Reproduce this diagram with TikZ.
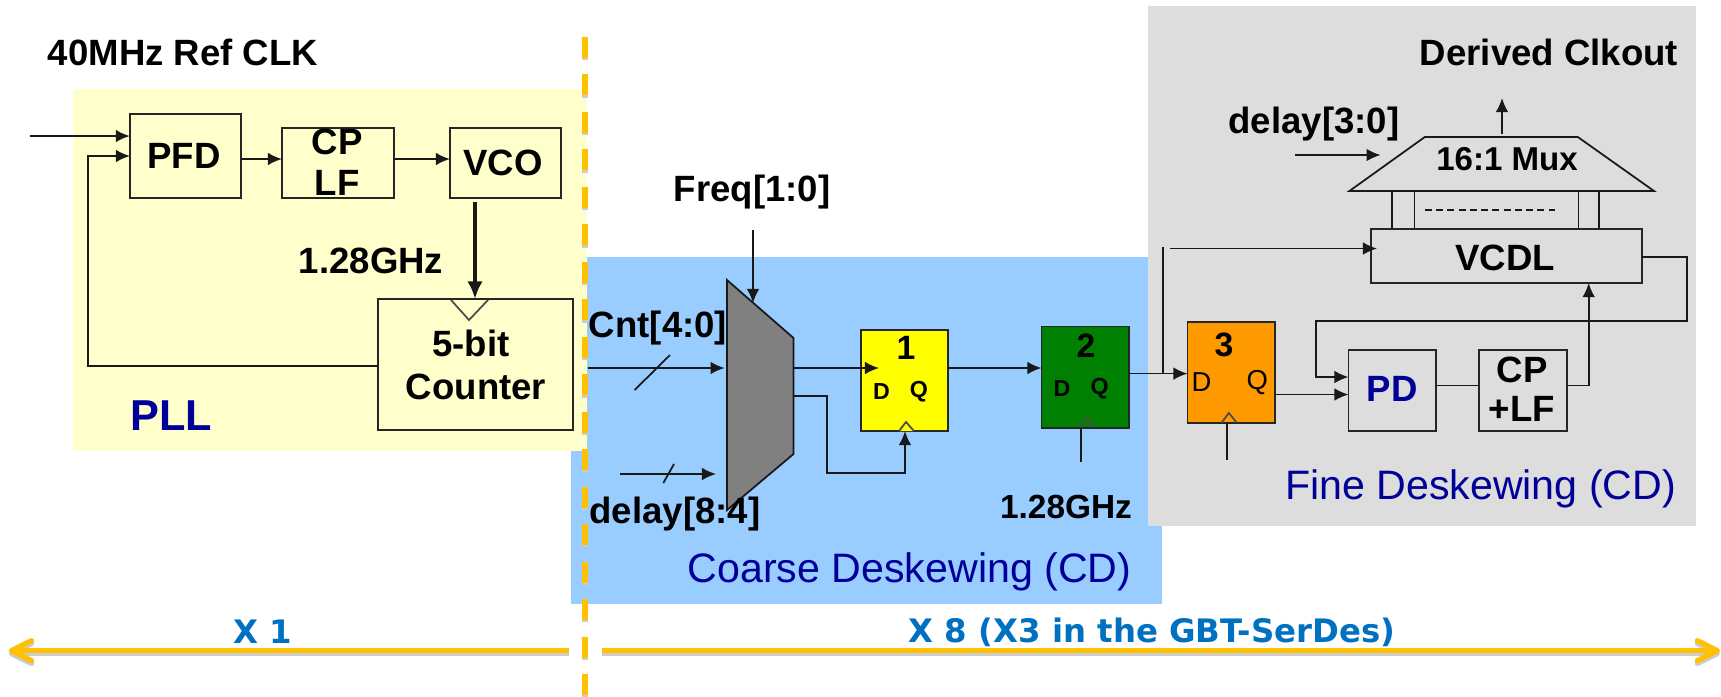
\documentclass[tikz,border=0pt]{standalone}
\usepackage{fontspec}
\setmainfont{Liberation Sans}
\newfontfamily\tagfont{DejaVu Sans}
\usepackage{tikz}
\usetikzlibrary{arrows,arrows.meta,shapes}
\definecolor{pllyellow}{RGB}{255,255,204}
\definecolor{coarseblue}{RGB}{153,204,255}
\definecolor{finegrey}{RGB}{221,221,221}
\definecolor{titleblue}{RGB}{0,0,153}
\definecolor{factorblue}{RGB}{0,112,192}
\definecolor{guideorange}{RGB}{255,192,0}
\definecolor{ffyellow}{RGB}{255,255,0}
\definecolor{ffgreen}{RGB}{0,128,0}
\definecolor{fforange}{RGB}{255,153,0}
\tikzstyle{region}=[inner sep=0pt,outer sep=0pt]
\tikzstyle{block}=[draw=black!85,line width=0.55pt,inner sep=0pt,outer sep=0pt]
\tikzstyle{lbl}=[inner sep=0pt,font=\fontsize{10.4}{12}\selectfont\bfseries]
\tikzstyle{pin}=[inner sep=0pt,font=\fontsize{6.6}{8}\selectfont\bfseries]
\tikzstyle{bigpin}=[inner sep=0pt,font=\fontsize{7.8}{9}\selectfont]
\tikzstyle{num}=[inner sep=0pt,font=\fontsize{9.6}{11}\selectfont\bfseries]
\tikzstyle{title}=[inner sep=0pt,text=titleblue,font=\fontsize{11.7}{13}\selectfont]
\tikzstyle{factor}=[inner sep=0pt,text=factorblue,font=\fontsize{9.2}{11}\selectfont\tagfont\bfseries]
\tikzstyle{edge}=[draw=black!90,line width=0.5pt]
\tikzstyle{link}=[edge,-{Latex[length=4pt,width=3.6pt]}]
\tikzstyle{guide}=[draw=guideorange,line width=1.5pt,
  preaction={draw=black!20,line width=1.5pt,transform canvas={yshift=-0.8pt}}]
\tikzstyle{guidedash}=[draw=guideorange,line width=1.5pt,dash pattern=on 5.97pt off 4.69pt,
  preaction={draw=black!20,line width=1.5pt,dash pattern=on 5.97pt off 4.69pt,transform canvas={yshift=-0.6pt}}]
\begin{document}
\begin{tikzpicture}[x=0.01cm,y=-0.01cm]
        \useasboundingbox (0,0) rectangle (1721,696);
        % backgrounds
        \node[region,fill=coarseblue,minimum width=5.905cm,minimum height=3.47cm] (coarsebg) at (866.75,430.5) {};
        \node[region,fill=finegrey,minimum width=5.485cm,minimum height=5.196cm] (finebg) at (1422,265.8) {};
        \node[region,fill=pllyellow,minimum width=5.135cm,minimum height=3.62cm] (pllbg) at (330,270) {};
        % PLL
        \node[block,minimum width=1.11cm,minimum height=.84cm] (pfd) at (185.5,156) {};
        \node[block,minimum width=1.12cm,minimum height=.70cm] (cplf) at (338,163) {};
        \node[block,minimum width=1.11cm,minimum height=.70cm] (vco) at (505.5,163) {};
        \node[block,minimum width=1.95cm,minimum height=1.31cm] (counter) at (475.5,364.5) {};
        \node[lbl] (pfdtxt) at (184,156) {PFD};
        \node[lbl] (cptxt) at (337,142) {CP};
        \node[lbl] (lftxt) at (337,183) {LF};
        \node[lbl] (vcotxt) at (503,163) {VCO};
        \node[lbl] (bittxt) at (471,343) {5-bit};
        \node[lbl] (counttxt) at (476,387) {Counter};
        \node[lbl] (reftxt) at (183,52) {40MHz Ref CLK};
        \node[lbl] (pllghz) at (371,261) {1.28GHz};
        \node[title,font=\fontsize{12.3}{14}\selectfont\bfseries] (plltxt) at (171.5,416) {PLL};
        \coordinate (refin) at (30,136);
        \coordinate (fbturn) at (88,366);
        \coordinate (fbtop) at (88,156);
        \coordinate (pfdout) at (241,159);
        \coordinate (vcoout) at (475,202);
        \draw[link,line width=0.7pt] (refin) -- (refin -| pfd.west);
        \draw[link] (counter.west |- fbturn) -- (fbturn) -- (fbtop) -- (fbtop -| pfd.west);
        \draw[link] (pfdout) -- (pfdout -| cplf.west);
        \draw[link] (pfdout -| cplf.east) -- (pfdout -| vco.west);
        \draw[edge,line width=1.3pt,-{Latex[length=5pt,width=4.4pt]}] (vcoout) -- (vcoout |- counter.north);
        \draw[edge,draw=black!70] (451,300) -- (469,320) -- (488,300);
        % coarse deskewing
        \draw[edge,fill=black!50] (727,280) -- (793.5,338) -- (793.5,454) -- (727,510) -- cycle;
        \coordinate (muxout) at (793.5,368);
        \coordinate (muxclk) at (793.5,396);
        \coordinate (freqin) at (753,230);
        \coordinate (freqend) at (753,303);
        \coordinate (cntin) at (587.5,368);
        \coordinate (cntend) at (724.6,368);
        \coordinate (delayin) at (620,474);
        \coordinate (delayend) at (716,474);
        \coordinate (clkturn) at (826.7,473);
        \coordinate (clktop) at (826.7,396);
        \coordinate (clkend) at (905,473);
        \node[block,fill=ffyellow,minimum width=.87cm,minimum height=1.01cm] (ffone) at (904.5,380.5) {};
        \node[block,fill=ffgreen,minimum width=.87cm,minimum height=1.01cm] (fftwo) at (1085,377) {};
        \node[num] (onetxt) at (906,348) {1};
        \node[pin] (oned) at (881.5,392) {D};
        \node[pin] (oneq) at (919,392) {Q};
        \node[num] (twotxt) at (1086,346) {2};
        \node[pin] (twod) at (1062,389) {D};
        \node[pin] (twoq) at (1099.6,389) {Q};
        \node[lbl] (freqtxt) at (752,192) {Freq[1:0]};
        \node[lbl] (cnttxt) at (658,328) {Cnt[4:0]};
        \node[lbl] (delaylow) at (675,514) {delay[8:4]};
        \node[lbl,font=\fontsize{9.5}{11}\selectfont\bfseries] (coarseghz) at (1066,507) {1.28GHz};
        \node[title] (coarsetxt) at (909.5,572) {Coarse Deskewing (CD)};
        \draw[link] (freqin) -- (freqend);
        \draw[link] (cntin) -- (cntend);
        \draw[edge] (634.6,390) -- (670,355);
        \draw[link] (delayin) -- (delayend);
        \draw[edge] (663.3,483) -- (674,464);
        \draw[link] (muxout) -- (879,368);
        \draw[link] (muxclk) -- (clktop) -- (clkturn) -- (clkend) -- (clkend |- ffone.south);
        \draw[edge,draw=black!70,fill=ffyellow] (899,431) -- (906,422) -- (914,431);
        \draw[link] (ffone.east |- muxout) -- (fftwo.west |- muxout);
        \draw[edge,draw=black!70] (1080.5,427) -- (1087,418) -- (1094,427);
        \draw[edge] (1081,427.5) -- (1081,461.7);
        % fine deskewing
        \node[block,fill=fforange,minimum width=.87cm,minimum height=1.01cm] (ffthree) at (1231,372.2) {};
        \node[block,minimum width=.87cm,minimum height=.81cm] (pd) at (1392,390.5) {};
        \node[block,minimum width=.88cm,minimum height=.81cm] (cplfb) at (1523,390.5) {};
        \node[block,minimum width=2.71cm,minimum height=.54cm] (vcdl) at (1506.5,256) {};
        \node[num] (threetxt) at (1224,345) {3};
        \node[bigpin] (threed) at (1201.6,382) {D};
        \node[bigpin] (threeq) at (1257.4,382) {Q};
        \node[lbl,text=titleblue] (pdtxt) at (1392,389) {PD};
        \node[lbl] (cpbtxt) at (1522,370) {CP};
        \node[lbl] (lfbtxt) at (1522,409) {+LF};
        \node[lbl] (vcdltxt) at (1505,257.6) {VCDL};
        \node[lbl,font=\fontsize{9.4}{11}\selectfont\bfseries] (muxtxt) at (1507,159) {16:1 Mux};
        \node[lbl] (clkouttxt) at (1549,52) {Derived Clkout};
        \node[lbl] (delayhigh) at (1314,124) {delay[3:0]};
        \node[title] (finetxt) at (1480.5,489) {Fine Deskewing (CD)};
        \coordinate (twoout) at (1129,373.6);
        \coordinate (tap) at (1163,373.6);
        \coordinate (taptop) at (1163,247);
        \coordinate (vcdlin) at (1169.6,248.5);
        \coordinate (qout) at (1274.4,394.5);
        \coordinate (pdout) at (1435.3,385.4);
        \coordinate (ctrlturn) at (1588.7,385.4);
        \coordinate (fbout) at (1642,257);
        \coordinate (fbright) at (1687,257);
        \coordinate (fbdown) at (1687,321);
        \coordinate (fbleft) at (1315.8,321);
        \coordinate (fbpd) at (1315.8,377);
        \coordinate (muxtop) at (1502,133.5);
        \coordinate (muxup) at (1502,98);
        \coordinate (selin) at (1295,155);
        \coordinate (selend) at (1380.6,155);
        \draw[edge] (1349.4,191) -- (1424.8,137) -- (1577.8,137) -- (1654,191) -- cycle;
        \draw[edge] (1392,191) -- (1392,229);
        \draw[edge] (1414.6,191) -- (1414.6,229);
        \draw[edge] (1578.5,191) -- (1578.5,229);
        \draw[edge] (1599,191) -- (1599,229);
        \draw[edge,dash pattern=on 2pt off 1.2pt] (1424.8,210) -- (1555,210);
        \draw[link] (muxtop) -- (muxup);
        \draw[link] (selin) -- (selend);
        \draw[edge] (twoout) -- (tap);
        \draw[link] (tap) -- (tap -| ffthree.west);
        \draw[edge] (tap) -- (taptop);
        \draw[link] (vcdlin) -- (1377,248.5);
        \draw[link] (qout) -- (qout -| pd.west);
        \draw[edge] (pdout) -- (pdout -| cplfb.west);
        \draw[link] (pdout -| cplfb.east) -- (ctrlturn) -- (ctrlturn |- vcdl.south);
        \draw[link] (fbout) -- (fbright) -- (fbdown) -- (fbleft) -- (fbpd) -- (fbpd -| pd.west);
        \draw[edge,draw=black!70] (1221.6,422.6) -- (1228.8,413) -- (1236.7,422.6);
        \draw[edge] (1227,422.6) -- (1227,459.8);
        % factors
        \coordinate (guidetop) at (585,37);
        \coordinate (guidebot) at (585,696);
        \draw[guidedash] (guidetop) -- (guidebot);
        \node[factor] (onefactor) at (263,632) {X 1};
        \node[factor] (eightfactor) at (1152,632) {X 8 (X3 in the GBT-SerDes)};
        \coordinate (leftstart) at (568.6,650.7);
        \coordinate (leftend) at (8.8,650.7);
        \coordinate (rightstart) at (601.5,650.7);
        \coordinate (rightend) at (1720,650.7);
        \draw[guide,-{Straight Barb[length=2mm,width=2mm,round]}] (leftstart) -- (leftend);
        \draw[guide,-{Straight Barb[length=2mm,width=2mm,round]}] (rightstart) -- (rightend);
      \end{tikzpicture}
\end{document}
